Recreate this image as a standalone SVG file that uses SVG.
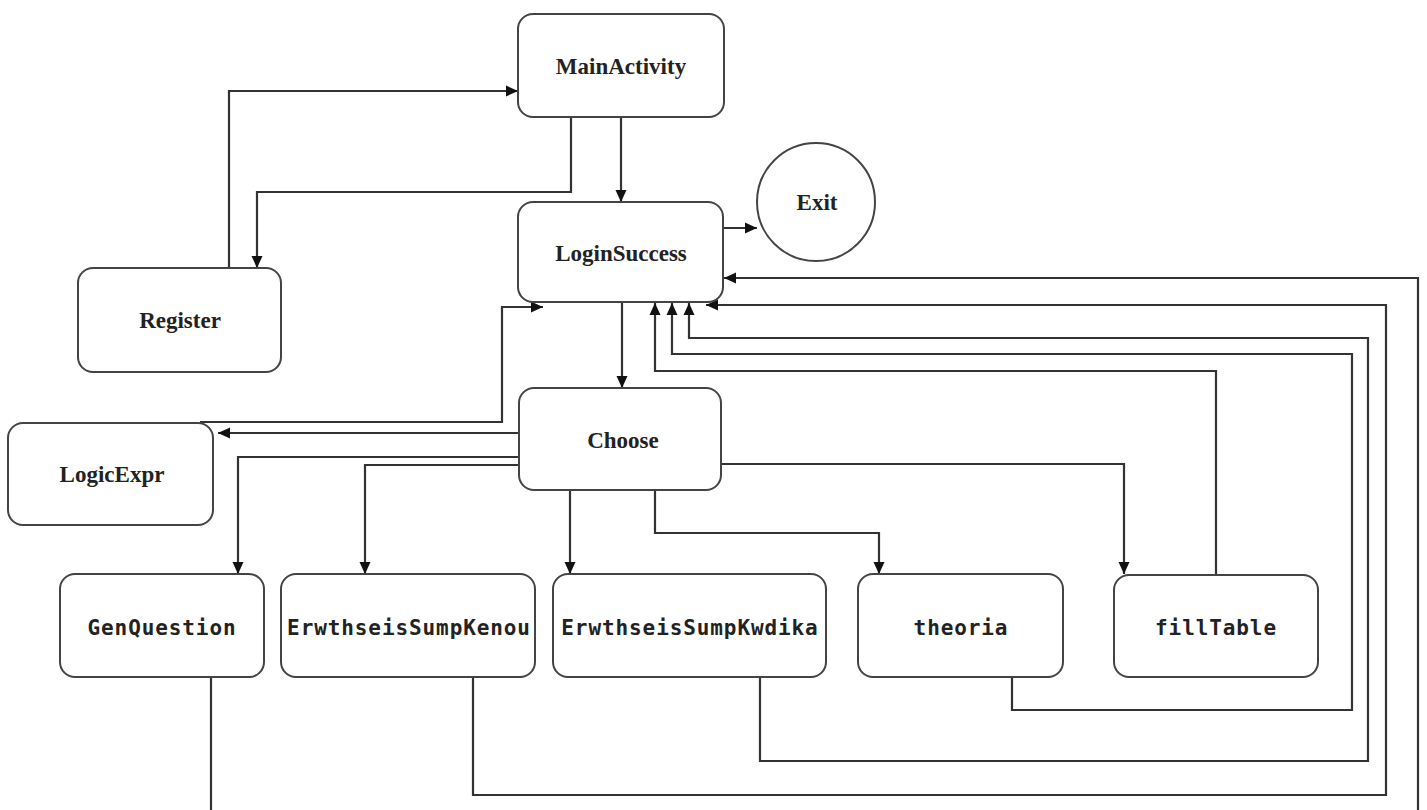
<svg xmlns="http://www.w3.org/2000/svg" width="1427" height="810" viewBox="0 0 1427 810">
<style>
.box{fill:#fff;stroke:#444;stroke-width:2}
.serif{font-family:"Liberation Serif","Times New Roman",serif;font-weight:bold;font-size:23px;fill:#222;text-anchor:middle}
.mono{font-family:"DejaVu Sans Mono","Liberation Mono",monospace;font-weight:bold;font-size:21px;fill:#222;text-anchor:middle;letter-spacing:0.9px}
.edge{fill:none;stroke:#333;stroke-width:2.2;marker-end:url(#arr)}
</style>
<defs>
<marker id="arr" markerUnits="userSpaceOnUse" markerWidth="14" markerHeight="12" refX="12" refY="6" orient="auto">
<path d="M0,0.5 L12,6 L0,11.5 z" fill="#111"/>
</marker>
</defs>
<rect width="1427" height="810" fill="#fff"/>
<g id="connectors">
<path class="edge" d="M621,117 V202"/>
<path class="edge" d="M571,117 V192 H257 V268"/>
<path class="edge" d="M229,268 V91 H518"/>
<path class="edge" d="M724,228 H757"/>
<path class="edge" d="M622,302 V388"/>
<path class="edge" d="M200,422 H502 V307 H543"/>
<path class="edge" d="M519,433 H218"/>
<path class="edge" d="M519,457 H238 V574"/>
<path class="edge" d="M519,465 H365 V574"/>
<path class="edge" d="M570,490 V574"/>
<path class="edge" d="M655,490 V533 H879 V574"/>
<path class="edge" d="M722,464 H1124 V574"/>
<path class="edge" d="M211,677 V830 H1418 V278 H724"/>
<path class="edge" d="M473,677 V795 H1386 V305 H706"/>
<path class="edge" d="M760,677 V761 H1368 V338 H689 V303"/>
<path class="edge" d="M1012,677 V710 H1352 V354 H672 V303"/>
<path class="edge" d="M1216,575 V371 H655 V303"/>
</g>
<g id="MainActivity"><rect class="box" x="518" y="14" width="206" height="103" rx="15"/><text class="serif" x="621" y="74">MainActivity</text></g>
<g id="LoginSuccess"><rect class="box" x="518" y="202" width="205" height="100" rx="15"/><text class="serif" x="621" y="261">LoginSuccess</text></g>
<g id="Exit"><circle class="box" cx="816" cy="202" r="59"/><text class="serif" x="817" y="210">Exit</text></g>
<g id="Register"><rect class="box" x="78" y="268" width="203" height="104" rx="15"/><text class="serif" x="180" y="328">Register</text></g>
<g id="Choose"><rect class="box" x="519" y="388" width="202" height="102" rx="15"/><text class="serif" x="623" y="448">Choose</text></g>
<g id="LogicExpr"><rect class="box" x="8" y="423" width="205" height="102" rx="15"/><text class="serif" x="112" y="482">LogicExpr</text></g>
<g id="GenQuestion"><rect class="box" x="60" y="574" width="204" height="103" rx="15"/><text class="mono" x="162" y="635">GenQuestion</text></g>
<g id="ErwthseisSumpKenou"><rect class="box" x="281" y="574" width="254" height="103" rx="15"/><text class="mono" x="409" y="635">ErwthseisSumpKenou</text></g>
<g id="ErwthseisSumpKwdika"><rect class="box" x="553" y="574" width="273" height="103" rx="15"/><text class="mono" x="690" y="635">ErwthseisSumpKwdika</text></g>
<g id="theoria"><rect class="box" x="858" y="574" width="205" height="103" rx="15"/><text class="mono" x="961" y="635">theoria</text></g>
<g id="fillTable"><rect class="box" x="1114" y="575" width="204" height="102" rx="15"/><text class="mono" x="1216" y="635">fillTable</text></g>
</svg>
